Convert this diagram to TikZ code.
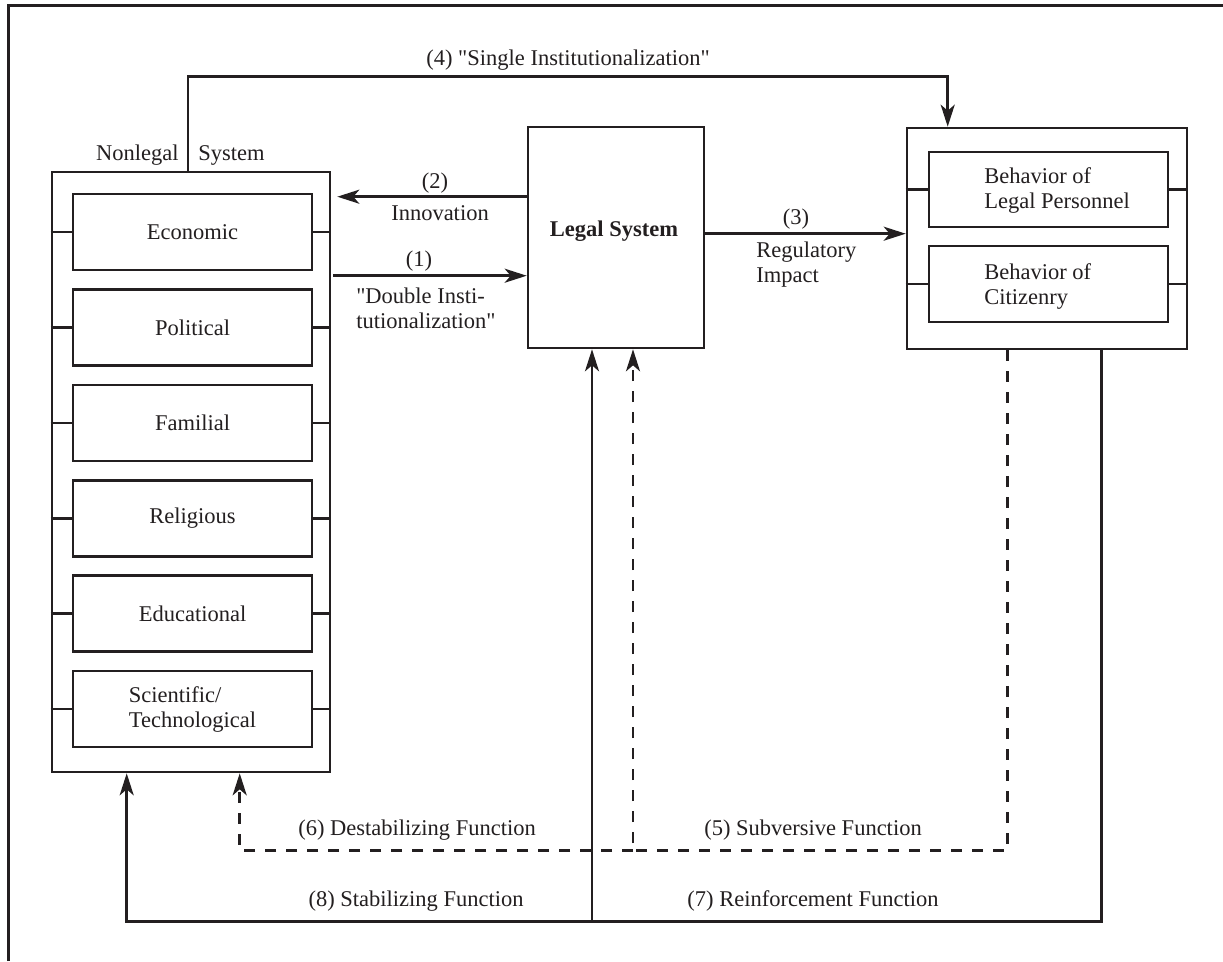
\documentclass[tikz,border=0pt]{standalone}
\usepackage{fontspec}
\setmainfont{Liberation Serif}
\newfontfamily\plainquote{Liberation Serif}
\usetikzlibrary{arrows.meta,calc}
\definecolor{ink}{RGB}{35,31,32}
\newcommand{\sq}{{\plainquote\char34}}
\begin{document}
\begin{tikzpicture}[x=1pt,y=-1pt, line width=2.6pt, color=ink, text=ink,
  font=\fontsize{22.5}{25}\selectfont,
  box/.style={draw, rectangle, inner sep=0pt, minimum width=239pt, minimum height=76pt, align=center},
  frame/.style={draw, rectangle, inner sep=0pt},
  arr/.style={-{Stealth[length=22pt,width=14pt,inset=6pt]}},
  dsh/.style={dash pattern=on 11pt off 10pt},
  lbl/.style={inner sep=0pt}]
\useasboundingbox (0,0) rectangle (1223,961);
\fill[white] (0,0) rectangle (1223,961);
\draw[line width=3pt] (8,961) -- (8,5) -- (1223,5);

% Nonlegal system
\node[frame, minimum width=278pt, minimum height=600pt] (nl) at (191,472) {};
\node[box] (eco) at (192.5,232) {Economic};
\node[box] (pol) at (192.5,327.4) {Political};
\node[box] (fam) at (192.5,422.8) {Familial};
\node[box] (rel) at (192.5,518.2) {Religious};
\node[box] (edu) at (192.5,613.6) {Educational};
\node[box, align=left] (sci) at (192.5,709) {Scientific/\\Technological};
\foreach \b in {eco,pol,fam,rel,edu,sci}
  \draw (nl.west |- \b.west) -- (\b.west) (\b.east) -- (nl.east |- \b.east);

% Legal system
\node[frame, minimum width=176pt, minimum height=221pt] (leg) at (616,237.5) {};
\node[lbl, font=\fontsize{22.5}{25}\selectfont\bfseries] (legt) at (614,231) {Legal System};

% Behavior
\node[frame, minimum width=280pt, minimum height=221pt] (rb) at (1047,238.5) {};
\node[box, minimum height=75pt] (lp) at (1048.5,189.5) {};
\node[box] (cit) at (1048.5,284) {};
\foreach \b in {lp,cit}
  \draw (rb.west |- \b.west) -- (\b.west) (\b.east) -- (rb.east |- \b.east);
\node[lbl, anchor=west, align=left] (lpt) at (983,190.5) {Behavior of\\Legal Personnel};
\node[lbl, anchor=west, align=left] (citt) at (983,286.5) {Behavior of\\Citizenry};

% Arrows
\coordinate (c2) at ([yshift=-71pt]leg.north west);
\draw[arr, shorten >=6pt] (c2) -- (c2 -| nl.east);
\coordinate (c1) at ([yshift=-105pt]nl.north east);
\draw[arr] ([xshift=2pt]c1) -- (c1 -| leg.west);
\coordinate (c3) at ([yshift=-108pt]leg.north east);
\draw[arr] (c3) -- (c3 -| rb.west);
\coordinate (c4s) at ([xshift=-3pt]nl.north);
\coordinate (c4e) at ([xshift=42pt]rb.north west);
\coordinate (c4y) at ([yshift=94pt]nl.north);
\draw[arr] (c4s) -- (c4s |- c4y) -| (c4e);

% Dashed feedback
\coordinate (c5s) at ([xshift=102pt]rb.south west);
\coordinate (cdy) at ([yshift=-500pt]rb.south west);
\coordinate (c5e) at ([xshift=17pt]leg.south);
\coordinate (c6e) at ([xshift=189pt]nl.south west);
\draw[dsh, arr] (c5s) |- (c5e |- cdy) -- (c5e);
\draw[dsh, arr] (c5e |- cdy) -| (c6e);

% Solid feedback
\coordinate (c7s) at ([xshift=196pt]rb.south west);
\coordinate (cby) at ([yshift=-571pt]rb.south west);
\coordinate (c7e) at ([xshift=-24pt]leg.south);
\coordinate (c8e) at ([xshift=76pt]nl.south west);
\draw[arr] (c7s) |- (c7e |- cby) -- (c7e);
\draw[arr] (c7e |- cby) -| (c8e);

% Labels
\node[lbl] (l4) at (568,60) {(4) \sq Single Institutionalization\sq};
\node[lbl, anchor=east] (lnl) at (180,155) {Nonlegal};
\node[lbl, anchor=west] (lsys) at (197,155) {System};
\node[lbl] (l2a) at (435,183) {(2)};
\node[lbl] (l2b) at (440,213) {Innovation};
\node[lbl] (l1a) at (419,261) {(1)};
\node[lbl, anchor=west, align=left] (l1b) at (355,308) {\sq Double Insti-\\tutionalization\sq};
\node[lbl] (l3a) at (796,219) {(3)};
\node[lbl, anchor=west, align=left] (l3b) at (755,265) {Regulatory\\Impact};
\node[lbl] (l6) at (417,830) {(6) Destabilizing Function};
\node[lbl] (l5) at (813,830) {(5) Subversive Function};
\node[lbl] (l8) at (416,901) {(8) Stabilizing Function};
\node[lbl] (l7) at (813,901) {(7) Reinforcement Function};
\end{tikzpicture}
\end{document}
